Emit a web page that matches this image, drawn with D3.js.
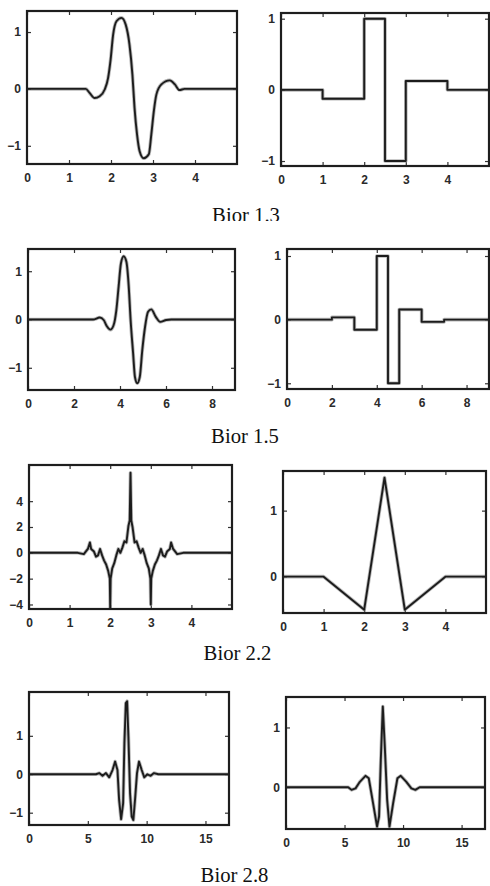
<!DOCTYPE html>
<html><head><meta charset="utf-8">
<script src="https://cdn.jsdelivr.net/npm/d3@7"></script>
<style>body{margin:0;background:#fff}svg{display:block}</style>
</head><body>
<script>
// ---------- data ----------
const captions = ["Bior 1.3", "Bior 1.5", "Bior 2.2", "Bior 2.8"];

const ticksX5 = [0, 1, 2, 3, 4];
const ticksX9 = [0, 2, 4, 6, 8];
const ticksX17 = [0, 5, 10, 15];
const ticksY1 = [-1, 0, 1];
const ticksY4 = [-4, -2, 0, 2, 4];
const ticksY01 = [0, 1];

// Bior 1.3 decomposition wavelet
const b13DecX = [0, 1.40, 1.49, 1.61, 1.73, 1.85, 1.93, 1.99, 2.05, 2.13, 2.25, 2.35, 2.44, 2.51, 2.56, 2.62, 2.68, 2.78, 2.90, 2.96, 3.02, 3.08, 3.20, 3.40, 3.52, 3.63, 3.75, 5];
const b13DecY = [0, 0, -0.07, -0.16, -0.13, -0.01, 0.19, 0.51, 0.95, 1.19, 1.25, 1.13, 0.78, 0.25, -0.33, -0.80, -1.09, -1.22, -1.15, -0.80, -0.39, -0.10, 0.08, 0.15, 0.08, -0.02, 0, 0];
// Bior 1.3 reconstruction wavelet (steps)
const b13RecX = [0, 1, 2, 2.5, 3, 4, 5];
const b13RecY = [0, -0.125, 1, -1, 0.125, 0, 0];

// Bior 1.5 decomposition wavelet
const b15DecX = [0, 2.83, 3.12, 3.29, 3.43, 3.58, 3.72, 3.84, 3.94, 4.04, 4.16, 4.28, 4.38, 4.46, 4.57, 4.65, 4.75, 4.86, 4.97, 5.09, 5.22, 5.36, 5.55, 5.75, 6.01, 6.23, 9];
const b15DecY = [0, 0, 0.04, -0.01, -0.14, -0.21, -0.12, 0.19, 0.68, 1.16, 1.31, 1.19, 0.68, 0, -0.70, -1.19, -1.32, -1.19, -0.63, -0.15, 0.16, 0.21, 0.06, -0.05, -0.01, 0, 0];
// Bior 1.5 reconstruction wavelet (steps)
const b15RecX = [0, 2, 3, 4, 4.5, 5, 6, 7, 9];
const b15RecY = [0, 0.035, -0.16, 1, -1, 0.16, -0.035, 0, 0];

// Bior 2.2 decomposition wavelet
const b22DecX = [0, 1.2, 1.35, 1.45, 1.5, 1.53, 1.6, 1.65, 1.7, 1.75, 1.8, 1.85, 1.9, 1.95, 1.99, 2.0, 2.01, 2.05, 2.1, 2.15, 2.2, 2.25, 2.3, 2.35, 2.4, 2.45, 2.48, 2.5, 2.52, 2.55, 2.6, 2.65, 2.7, 2.75, 2.8, 2.85, 2.9, 2.95, 2.99, 3.0, 3.01, 3.05, 3.1, 3.15, 3.2, 3.25, 3.3, 3.35, 3.4, 3.47, 3.5, 3.55, 3.65, 3.8, 5];
const b22DecY = [0, 0, -0.1, 0.3, 0.8, 0.3, 0.1, -0.3, -0.2, 0.3, -0.2, -0.6, -0.9, -1.4, -2.0, -4.3, -2.0, -1.2, -0.8, -0.2, 0.3, 0, 0.4, 0.9, 0.8, 2.1, 2.5, 6.2, 2.5, 2.0, 0.8, 0.9, 0.4, 0, 0.3, -0.2, -0.8, -1.2, -2.0, -4.0, -2.0, -1.4, -0.9, -0.6, -0.2, 0.3, -0.2, -0.3, 0.1, 0.3, 0.8, 0.3, -0.1, 0, 0];
// Bior 2.2 reconstruction wavelet
const b22RecX = [0, 1, 2, 2.5, 3, 4, 5];
const b22RecY = [0, 0, -0.5, 1.5, -0.5, 0, 0];

// Bior 2.8 decomposition wavelet
const b28DecX = [0, 5.69, 5.97, 6.25, 6.54, 6.82, 7.10, 7.32, 7.52, 7.66, 7.83, 8.00, 8.11, 8.23, 8.34, 8.45, 8.59, 8.73, 8.87, 9.01, 9.18, 9.35, 9.58, 9.80, 10.06, 10.34, 10.62, 10.99, 17];
const b28DecY = [0, 0, 0.03, -0.04, 0.03, -0.08, 0.11, 0.33, 0.11, -0.67, -1.17, -0.76, 0.81, 1.85, 1.9, 0.98, -0.5, -1.1, -1.19, -0.67, 0.03, 0.33, 0.11, -0.08, 0, -0.04, 0.03, 0, 0];
// Bior 2.8 reconstruction wavelet
const b28RecX = [0, 5.31, 5.60, 5.94, 6.31, 6.79, 7.07, 7.44, 7.78, 7.95, 8.10, 8.27, 8.44, 8.64, 8.84, 9.15, 9.52, 9.80, 10.28, 10.71, 11.05, 11.42, 17];
const b28RecY = [0, 0, -0.045, -0.02, 0.09, 0.19, 0.15, -0.27, -0.66, -0.49, 0.46, 1.35, 0.68, -0.21, -0.66, -0.27, 0.15, 0.19, 0.09, -0.02, -0.045, 0, 0];

// ---------- layout ----------
const W = 490, H = 886;
const panels = [
  {xs: b13DecX, ys: b13DecY, xd: [0, 5], yd: [-1.32, 1.37], xt: ticksX5, yt: ticksY1, box: {l: 27, r: 237, t: 11, b: 164}, curve: d3.curveMonotoneX},
  {xs: b13RecX, ys: b13RecY, xd: [0, 5], yd: [-1.07, 1.08], xt: ticksX5, yt: ticksY1, box: {l: 281, r: 489, t: 13, b: 166}, curve: d3.curveStepAfter},
  {xs: b15DecX, ys: b15DecY, xd: [0, 9], yd: [-1.46, 1.46], xt: ticksX9, yt: ticksY1, box: {l: 28, r: 235, t: 249, b: 390}, curve: d3.curveMonotoneX},
  {xs: b15RecX, ys: b15RecY, xd: [0, 9], yd: [-1.09, 1.11], xt: ticksX9, yt: ticksY1, box: {l: 287, r: 489, t: 249, b: 389}, curve: d3.curveStepAfter},
  {xs: b22DecX, ys: b22DecY, xd: [0, 5], yd: [-4.35, 6.8], xt: ticksX5, yt: ticksY4, box: {l: 29, r: 232, t: 465, b: 609}, curve: d3.curveLinear},
  {xs: b22RecX, ys: b22RecY, xd: [0, 5], yd: [-0.55, 1.6], xt: ticksX5, yt: ticksY01, box: {l: 283, r: 486, t: 471, b: 613}, curve: d3.curveLinear},
  {xs: b28DecX, ys: b28DecY, xd: [0, 17], yd: [-1.32, 2.14], xt: ticksX17, yt: ticksY1, box: {l: 29, r: 229, t: 692, b: 825}, curve: d3.curveLinear},
  {xs: b28RecX, ys: b28RecY, xd: [0, 17], yd: [-0.70, 1.51], xt: ticksX17, yt: ticksY01, box: {l: 286, r: 485, t: 697, b: 829}, curve: d3.curveLinear}
];
const captionPos = [
  {x: 246, y: 222, clip: 221},
  {x: 245, y: 443},
  {x: 237.5, y: 660},
  {x: 234.5, y: 882}
];

const svg = d3.select("body").append("svg").attr("width", W).attr("height", H)
  .style("background", "#fff");
const defs = svg.append("defs");

panels.forEach((p, i) => {
  const b = p.box;
  const x = d3.scaleLinear().domain(p.xd).range([b.l, b.r]);
  const y = d3.scaleLinear().domain(p.yd).range([b.b, b.t]);
  const g = svg.append("g");

  defs.append("clipPath").attr("id", "clip" + i).append("rect")
    .attr("x", b.l).attr("y", b.t).attr("width", b.r - b.l).attr("height", b.b - b.t);

  const tickFont = "'Liberation Sans', Arial, sans-serif";
  const styleAxis = sel => {
    sel.select(".domain").remove();
    sel.selectAll(".tick line").attr("stroke", "#333").attr("stroke-width", 1.2);
    sel.selectAll(".tick text").attr("fill", "#2a2a2a")
      .style("font-family", tickFont).style("font-size", "12px").style("font-weight", "bold");
  };

  g.append("g").attr("transform", `translate(0,${b.b})`)
    .call(d3.axisBottom(x).tickValues(p.xt).tickSizeInner(-4).tickSizeOuter(0).tickPadding(9).tickFormat(d3.format("d")))
    .call(styleAxis);
  g.append("g").attr("transform", `translate(${b.l},0)`)
    .call(d3.axisLeft(y).tickValues(p.yt).tickSizeInner(-4).tickSizeOuter(0).tickPadding(6).tickFormat(d3.format("d")))
    .call(styleAxis);
  g.append("g").attr("transform", `translate(0,${b.t})`)
    .call(d3.axisTop(x).tickValues(p.xt).tickSizeInner(-4).tickSizeOuter(0).tickFormat(""))
    .call(styleAxis);
  g.append("g").attr("transform", `translate(${b.r},0)`)
    .call(d3.axisRight(y).tickValues(p.yt).tickSizeInner(-4).tickSizeOuter(0).tickFormat(""))
    .call(styleAxis);

  const line = d3.line()
    .x((d, k) => x(p.xs[k]))
    .y((d, k) => y(p.ys[k]))
    .curve(p.curve);
  const cg = g.append("g").attr("clip-path", `url(#clip${i})`);
  cg.append("path").datum(p.xs).attr("d", line)
    .attr("fill", "none").attr("stroke", "#9a9a9a").attr("stroke-width", 3.6)
    .attr("stroke-linejoin", "round").attr("opacity", 0.7);
  cg.append("path").datum(p.xs).attr("d", line)
    .attr("fill", "none").attr("stroke", "#1c1c1c").attr("stroke-width", 1.9)
    .attr("stroke-linejoin", "round");

  g.append("rect").attr("x", b.l).attr("y", b.t)
    .attr("width", b.r - b.l).attr("height", b.b - b.t)
    .attr("fill", "none").attr("stroke", "#1e1e1e").attr("stroke-width", 2.2);
});

captions.forEach((c, i) => {
  const pos = captionPos[i];
  const t = svg.append("text")
    .attr("x", pos.x).attr("y", pos.y)
    .attr("text-anchor", "middle")
    .style("font-family", "'Liberation Serif', 'Times New Roman', serif")
    .style("font-size", "20.7px").attr("fill", "#111")
    .text(c);
  if (pos.clip) {
    defs.append("clipPath").attr("id", "capclip" + i).append("rect")
      .attr("x", 0).attr("y", 0).attr("width", W).attr("height", pos.clip);
    t.attr("clip-path", `url(#capclip${i})`);
  }
});
</script>
</body></html>
